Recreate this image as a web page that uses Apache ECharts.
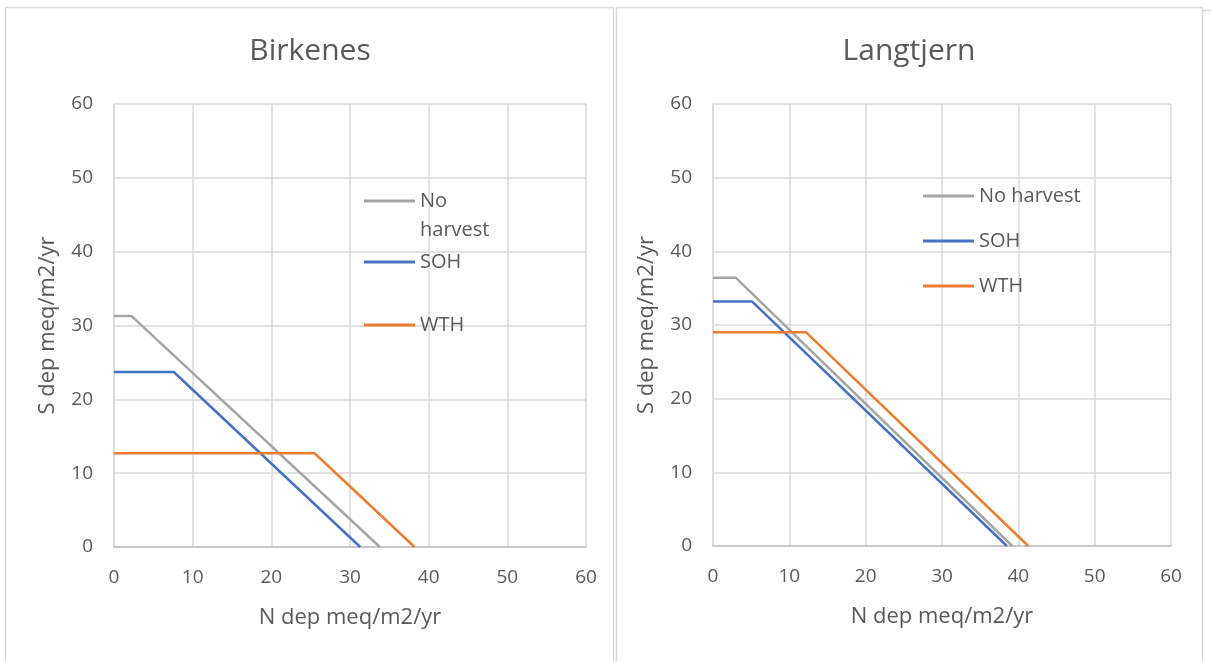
<!DOCTYPE html>
<html>
<head>
<meta charset="utf-8">
<script src="https://cdn.jsdelivr.net/npm/echarts@6/dist/echarts.min.js"></script>
<style>
html,body{margin:0;padding:0;background:#fff;}
#chart{width:1211px;height:661px;}
</style>
</head>
<body>
<div id="chart"></div>
<script>
// ---- data (N dep, S dep) ----
const seriesNames = ['No harvest', 'SOH', 'WTH'];
const panelTitles = ['Birkenes', 'Langtjern'];
const axisTicks = [0, 10, 20, 30, 40, 50, 60];
const birkNoHarvest = [[0, 31.3], [2.2, 31.3], [33.8, 0]];
const birkSOH = [[0, 23.7], [7.6, 23.7], [31.3, 0]];
const birkWTH = [[0, 12.7], [25.5, 12.7], [38.2, 0]];
const langNoHarvest = [[0, 36.4], [3.0, 36.4], [39.2, 0]];
const langSOH = [[0, 33.2], [5.1, 33.2], [38.5, 0]];
const langWTH = [[0, 29.0], [12.2, 29.0], [41.3, 0]];

const colors = ['#a5a5a5', '#4472c4', '#ed7d31'];
const FONT = 'Open Sans';
const TXT = '#595959';

const chart = echarts.init(document.getElementById('chart'), null, {renderer: 'canvas'});

function xAxis(gi) {
  return {
    type: 'value', gridIndex: gi, min: 0, max: 60, interval: 10,
    name: 'N dep meq/m2/yr', nameLocation: 'middle', nameGap: 60,
    nameTextStyle: {color: TXT, fontSize: 22, fontFamily: FONT},
    axisLine: {show: true, lineStyle: {color: '#bfbfbf', width: 1.5}},
    axisTick: {show: false},
    axisLabel: {color: TXT, fontSize: 19, fontFamily: FONT, margin: 21,
      formatter: v => axisTicks.includes(v) ? String(v) : ''},
    splitLine: {show: true, lineStyle: {color: '#d9d9d9', width: 1.5}}
  };
}
function yAxis(gi) {
  return {
    type: 'value', gridIndex: gi, min: 0, max: 60, interval: 10,
    name: 'S dep meq/m2/yr', nameLocation: 'middle', nameGap: 55, nameRotate: 90,
    nameTextStyle: {color: TXT, fontSize: 22, fontFamily: FONT},
    axisLine: {show: true, lineStyle: {color: '#d9d9d9', width: 1.5}},
    axisTick: {show: false},
    axisLabel: {color: TXT, fontSize: 19, fontFamily: FONT, margin: 21,
      formatter: v => axisTicks.includes(v) ? String(v) : ''},
    splitLine: {show: true, lineStyle: {color: '#d9d9d9', width: 1.5}}
  };
}
function line(name, data, gi, ci) {
  return {
    name: name, type: 'line', xAxisIndex: gi, yAxisIndex: gi, data: data,
    showSymbol: false, symbol: 'none', animation: false,
    lineStyle: {color: colors[ci], width: 2.5}, itemStyle: {color: colors[ci]}
  };
}
const panelData = [[birkNoHarvest, birkSOH, birkWTH], [langNoHarvest, langSOH, langWTH]];
const series = [];
panelData.forEach((arr, gi) => {
  arr.forEach((d, ci) => series.push(line(seriesNames[ci], d, gi, ci)));
});

function leg(name, left, cy) {
  return {
    data: [name], left: left, top: cy - 12, padding: 0, icon: 'rect',
    itemWidth: 51, itemHeight: 3, itemGap: 0, selectedMode: false,
    textStyle: {color: TXT, fontSize: 20, fontFamily: FONT, lineHeight: 24}
  };
}
const legends = [
  Object.assign(leg('No harvest', 364, 201), {
    top: 201 - 43.5,
    formatter: () => ' \nNo\nharvest',
    textStyle: {color: TXT, fontSize: 20, fontFamily: FONT, lineHeight: 29}
  }),
  leg('SOH', 364, 262),
  leg('WTH', 364, 325),
  leg('No harvest', 923, 196),
  leg('SOH', 923, 241),
  leg('WTH', 923, 286)
];

const option = {
  backgroundColor: '#ffffff',
  animation: false,
  title: [
    {text: panelTitles[0], left: 305, top: 31, textAlign: 'center',
      textStyle: {color: TXT, fontSize: 30, fontWeight: 'normal', fontFamily: FONT}},
    {text: panelTitles[1], left: 904, top: 31, textAlign: 'center',
      textStyle: {color: TXT, fontSize: 30, fontWeight: 'normal', fontFamily: FONT}}
  ],
  legend: legends,
  grid: [
    {left: 114, right: 1211 - 586, top: 104, bottom: 661 - 547},
    {left: 713, right: 1211 - 1171, top: 104, bottom: 661 - 546}
  ],
  xAxis: [xAxis(0), xAxis(1)],
  yAxis: [yAxis(0), yAxis(1)],
  series: series,
  graphic: [
    {type: 'rect', shape: {x: 5.5, y: 7.5, width: 608, height: 670}, style: {fill: 'none', stroke: '#d9d9d9', lineWidth: 1.5}, silent: true, z: -1},
    {type: 'rect', shape: {x: 616.5, y: 7.5, width: 586, height: 670}, style: {fill: 'none', stroke: '#d9d9d9', lineWidth: 1.5}, silent: true, z: -1},
    {type: 'line', shape: {x1: 1202, y1: 10.5, x2: 1211, y2: 10.5}, style: {stroke: '#d9d9d9', lineWidth: 1.5}, silent: true, z: -1}
  ]
};
chart.setOption(option);
</script>
</body>
</html>
